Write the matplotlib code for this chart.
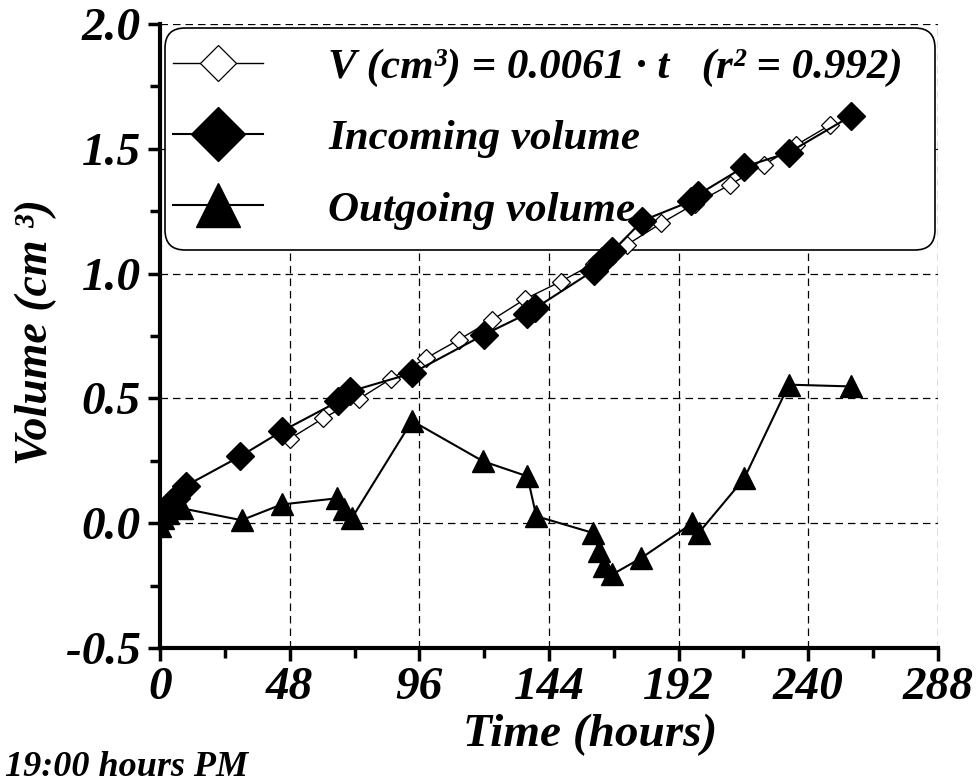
import matplotlib
matplotlib.use("Agg")
import matplotlib.pyplot as plt
from matplotlib.ticker import MultipleLocator
from matplotlib.font_manager import FontProperties
from matplotlib.patches import FancyBboxPatch

# ---- data ----
fit_t = [48, 60.5, 73.5, 85.6, 98.5, 110.6, 123, 135.3, 148.3, 160.5, 172.8,
         185.4, 198, 211, 223.5, 235.5, 248]
fit_v = [0.338, 0.421, 0.497, 0.579, 0.661, 0.735, 0.815, 0.899, 0.968, 1.04,
         1.115, 1.201, 1.28, 1.356, 1.435, 1.515, 1.595]

in_t = [0, 2, 4, 6, 9.6, 29.7, 45, 66, 70.4, 93.3, 119.9, 136, 139, 160.5,
        163.5, 167.5, 178.6, 196.5, 199, 216.3, 232.8, 255.9]
in_v = [0.02, 0.05, 0.08, 0.10, 0.15, 0.268, 0.368, 0.488, 0.528, 0.601, 0.755,
        0.84, 0.862, 1.012, 1.05, 1.09, 1.212, 1.29, 1.315, 1.428, 1.485, 1.632]

out_t = [0, 1, 3, 5, 8, 30.2, 45, 65.7, 68, 71, 93.3, 119.6, 136, 139.3, 160.3,
         162.5, 164.4, 167.5, 178.2, 197.1, 199.4, 216.3, 232.8, 255.7]
out_v = [-0.01, 0.02, 0.04, 0.07, 0.06, 0.012, 0.075, 0.10, 0.056, 0.02, 0.41,
         0.248, 0.188, 0.028, -0.039, -0.112, -0.172, -0.205, -0.139, 0.0,
         -0.039, 0.18, 0.555, 0.548]

labels = ["V (cm³) = 0.0061 · t   (r² = 0.992)", "Incoming volume", "Outgoing volume"]
x_ticks = [0, 48, 96, 144, 192, 240, 288]
y_ticks = [-0.5, 0.0, 0.5, 1.0, 1.5, 2.0]

FONT = dict(family="Liberation Serif", weight="bold", style="italic")

fig = plt.figure(figsize=(9.76, 7.82), dpi=100)
ax = fig.add_axes([160/976, 1-648/782, (938-160)/976, (648-24)/782])

ax.plot(fit_t, fit_v, color="black", lw=1.0, marker="D", ms=9, mfc="white",
        mec="black", mew=0.9, zorder=3, label=labels[0])
ax.plot(in_t, in_v, color="black", lw=1.5, marker="D", ms=14, mfc="black",
        mec="black", zorder=4, label=labels[1])
ax.plot(out_t, out_v, color="black", lw=1.5, marker="^", ms=16, mfc="black",
        mec="black", zorder=4, label=labels[2])

ax.set_xlim(0, 288)
ax.set_ylim(-0.5, 2.0)
ax.set_xticks(x_ticks)
ax.set_yticks(y_ticks)
ax.set_xticklabels([str(v) for v in x_ticks])
ax.set_yticklabels([f"{v:.1f}" for v in y_ticks])
ax.xaxis.set_minor_locator(MultipleLocator(24))
ax.yaxis.set_minor_locator(MultipleLocator(0.25))
ax.tick_params(axis="both", which="major", direction="out", length=9, width=2.5, pad=5)
ax.tick_params(axis="both", which="minor", direction="out", length=7, width=2.5)
for lab in ax.get_xticklabels() + ax.get_yticklabels():
    lab.set_fontproperties(FontProperties(size=34, **FONT))

for s in ["top", "right"]:
    ax.spines[s].set_visible(False)
for s in ["left", "bottom"]:
    ax.spines[s].set_linewidth(3)

ax.set_axisbelow(True)
ax.grid(True, which="major", color="black", linestyle=(0, (6, 4)), linewidth=0.9)

# legend frame (rounded, opaque) drawn separately so its padding can be exact
frame = FancyBboxPatch((1.65, (782 - 250) / 100), 7.70, 2.22,
                       boxstyle="round,pad=0,rounding_size=0.2",
                       transform=fig.dpi_scale_trans, facecolor="white",
                       edgecolor="black", linewidth=1.2, zorder=1.9, clip_on=False)
ax.add_patch(frame)

leg = ax.legend(loc="upper left",
                bbox_to_anchor=((173 - 160) / 778, (648 - 47.5) / 624),
                markerscale=2.0, handlelength=2.1, handletextpad=1.5,
                labelspacing=0.75, borderpad=0.0, borderaxespad=0.0,
                frameon=False, prop=FontProperties(size=31, **FONT))
leg.set_zorder(2)

fig.text(590/976, 1-735/782, "Time (hours)", ha="center", va="center",
         fontsize=34, **FONT)
fig.text(36/976, 1-332/782, "Volume (cm ³)", ha="center", va="center",
         rotation=90, fontsize=33, **FONT)
fig.text(5/976, 1-767/782, "19:00 hours PM", ha="left", va="center",
         fontsize=26, **FONT)

fig.savefig("out.png", dpi=100)
